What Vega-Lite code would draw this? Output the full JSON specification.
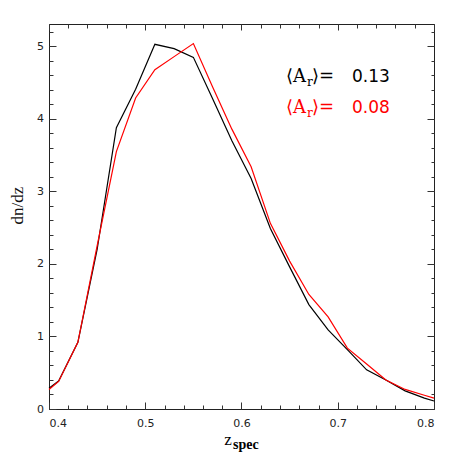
{
  "$schema": "https://vega.github.io/schema/vega-lite/v6.json",
  "width": 385,
  "height": 385,
  "autosize": "none",
  "padding": {"left": 49, "top": 24, "right": 24, "bottom": 49},
  "background": "white",
  "config": {
    "view": {"stroke": "#222", "strokeWidth": 1},
    "axis": {"grid": false, "domain": false, "tickColor": "#333", "tickWidth": 1, "labelFont": "DejaVu Sans", "labelFontSize": 11, "labelColor": "#222"}
  },
  "datasets": {
    "curves": [
      {"z": 0.40, "dndz": 0.285, "series": "0.13"},
      {"z": 0.41, "dndz": 0.386, "series": "0.13"},
      {"z": 0.43, "dndz": 0.92, "series": "0.13"},
      {"z": 0.45, "dndz": 2.2, "series": "0.13"},
      {"z": 0.47, "dndz": 3.88, "series": "0.13"},
      {"z": 0.49, "dndz": 4.41, "series": "0.13"},
      {"z": 0.51, "dndz": 5.03, "series": "0.13"},
      {"z": 0.53, "dndz": 4.97, "series": "0.13"},
      {"z": 0.55, "dndz": 4.85, "series": "0.13"},
      {"z": 0.57, "dndz": 4.28, "series": "0.13"},
      {"z": 0.59, "dndz": 3.70, "series": "0.13"},
      {"z": 0.61, "dndz": 3.18, "series": "0.13"},
      {"z": 0.63, "dndz": 2.49, "series": "0.13"},
      {"z": 0.65, "dndz": 1.96, "series": "0.13"},
      {"z": 0.67, "dndz": 1.44, "series": "0.13"},
      {"z": 0.69, "dndz": 1.09, "series": "0.13"},
      {"z": 0.71, "dndz": 0.82, "series": "0.13"},
      {"z": 0.73, "dndz": 0.54, "series": "0.13"},
      {"z": 0.75, "dndz": 0.40, "series": "0.13"},
      {"z": 0.77, "dndz": 0.25, "series": "0.13"},
      {"z": 0.79, "dndz": 0.15, "series": "0.13"},
      {"z": 0.80, "dndz": 0.11, "series": "0.13"},
      {"z": 0.40, "dndz": 0.27, "series": "0.08"},
      {"z": 0.41, "dndz": 0.38, "series": "0.08"},
      {"z": 0.43, "dndz": 0.92, "series": "0.08"},
      {"z": 0.45, "dndz": 2.25, "series": "0.08"},
      {"z": 0.47, "dndz": 3.55, "series": "0.08"},
      {"z": 0.49, "dndz": 4.29, "series": "0.08"},
      {"z": 0.51, "dndz": 4.68, "series": "0.08"},
      {"z": 0.53, "dndz": 4.86, "series": "0.08"},
      {"z": 0.55, "dndz": 5.04, "series": "0.08"},
      {"z": 0.57, "dndz": 4.44, "series": "0.08"},
      {"z": 0.59, "dndz": 3.86, "series": "0.08"},
      {"z": 0.61, "dndz": 3.34, "series": "0.08"},
      {"z": 0.63, "dndz": 2.56, "series": "0.08"},
      {"z": 0.65, "dndz": 2.04, "series": "0.08"},
      {"z": 0.67, "dndz": 1.58, "series": "0.08"},
      {"z": 0.69, "dndz": 1.27, "series": "0.08"},
      {"z": 0.71, "dndz": 0.84, "series": "0.08"},
      {"z": 0.73, "dndz": 0.62, "series": "0.08"},
      {"z": 0.75, "dndz": 0.40, "series": "0.08"},
      {"z": 0.77, "dndz": 0.27, "series": "0.08"},
      {"z": 0.79, "dndz": 0.19, "series": "0.08"},
      {"z": 0.80, "dndz": 0.15, "series": "0.08"}
    ],
    "notes": [
      {"part": "serifL", "text": "⟨A", "z": 0.667, "dndz": 4.515, "series": "0.13"},
      {"part": "sub", "text": "r", "z": 0.6681, "dndz": 4.515, "series": "0.13"},
      {"part": "serifR", "text": "⟩=", "z": 0.6732, "dndz": 4.515, "series": "0.13"},
      {"part": "num", "text": "0.13", "z": 0.7148, "dndz": 4.515, "series": "0.13"},
      {"part": "serifL", "text": "⟨A", "z": 0.667, "dndz": 4.083, "series": "0.08"},
      {"part": "sub", "text": "r", "z": 0.6681, "dndz": 4.083, "series": "0.08"},
      {"part": "serifR", "text": "⟩=", "z": 0.6732, "dndz": 4.083, "series": "0.08"},
      {"part": "num", "text": "0.08", "z": 0.7148, "dndz": 4.083, "series": "0.08"},
      {"part": "zmain", "text": "z", "z": 0.590, "dndz": -0.497, "series": "axis"},
      {"part": "zsub", "text": "spec", "z": 0.5911, "dndz": -0.55, "series": "axis"}
    ]
  },
  "resolve": {"axis": {"x": "independent", "y": "independent"}},
  "layer": [
    {
      "data": {"name": "curves"},
      "mark": {"type": "line", "strokeWidth": 1.2},
      "encoding": {
        "x": {"field": "z", "type": "quantitative", "scale": {"domain": [0.4, 0.8], "nice": false, "zero": false},
          "axis": {"orient": "bottom", "values": [0.4, 0.5, 0.6, 0.7, 0.8], "format": ".1f", "tickSize": -7, "labelPadding": 15, "title": null}},
        "y": {"field": "dndz", "type": "quantitative", "scale": {"domain": [0, 5.31], "nice": false, "zero": false},
          "axis": {"orient": "left", "values": [0, 1, 2, 3, 4, 5], "tickSize": -7, "labelPadding": 12.5, "title": "dn/dz", "titleFont": "Liberation Serif", "titleFontSize": 17, "titleFontWeight": "normal", "titleColor": "#111", "titleX": -31.5, "titleY": 181, "titleAngle": -90, "titleAlign": "center", "titleBaseline": "middle"}},
        "color": {"field": "series", "type": "nominal", "scale": {"domain": ["0.13", "0.08", "axis"], "range": ["#000000", "#ff0000", "#000000"]}, "legend": null},
        "detail": {"field": "series"}
      }
    },
    {
      "data": {"name": "notes"},
      "transform": [{"filter": "datum.part === 'serifL'"}],
      "mark": {"type": "text", "align": "right", "baseline": "alphabetic", "font": "DejaVu Serif", "fontSize": 18},
      "encoding": {
        "x": {"field": "z", "type": "quantitative", "scale": {"domain": [0.4, 0.8], "nice": false, "zero": false},
          "axis": {"orient": "bottom", "values": [0.4, 0.42, 0.44, 0.46, 0.48, 0.5, 0.52, 0.54, 0.56, 0.58, 0.6, 0.62, 0.64, 0.66, 0.68, 0.7, 0.72, 0.74, 0.76, 0.78, 0.8], "tickSize": -4, "labels": false, "title": null}},
        "y": {"field": "dndz", "type": "quantitative", "scale": {"domain": [0, 5.31], "nice": false, "zero": false},
          "axis": {"orient": "left", "values": [0, 0.2, 0.4, 0.6, 0.8, 1, 1.2, 1.4, 1.6, 1.8, 2, 2.2, 2.4, 2.6, 2.8, 3, 3.2, 3.4, 3.6, 3.8, 4, 4.2, 4.4, 4.6, 4.8, 5, 5.2], "tickSize": -4, "labels": false, "title": null}},
        "text": {"field": "text"},
        "color": {"field": "series", "type": "nominal", "legend": null}
      }
    },
    {
      "data": {"name": "notes"},
      "transform": [{"filter": "datum.part === 'sub'"}],
      "mark": {"type": "text", "align": "left", "baseline": "alphabetic", "font": "DejaVu Serif", "fontSize": 12, "dy": 4},
      "encoding": {
        "x": {"field": "z", "type": "quantitative", "scale": {"domain": [0.4, 0.8], "nice": false, "zero": false},
          "axis": {"orient": "top", "values": [0.4, 0.5, 0.6, 0.7, 0.8], "tickSize": -6, "labels": false, "title": null}},
        "y": {"field": "dndz", "type": "quantitative", "scale": {"domain": [0, 5.31], "nice": false, "zero": false},
          "axis": {"orient": "right", "values": [0, 1, 2, 3, 4, 5], "tickSize": -7, "labels": false, "title": null}},
        "text": {"field": "text"},
        "color": {"field": "series", "type": "nominal", "legend": null}
      }
    },
    {
      "data": {"name": "notes"},
      "transform": [{"filter": "datum.part === 'serifR'"}],
      "mark": {"type": "text", "align": "left", "baseline": "alphabetic", "font": "DejaVu Serif", "fontSize": 18},
      "encoding": {
        "x": {"field": "z", "type": "quantitative", "scale": {"domain": [0.4, 0.8], "nice": false, "zero": false},
          "axis": {"orient": "top", "values": [0.4, 0.42, 0.44, 0.46, 0.48, 0.5, 0.52, 0.54, 0.56, 0.58, 0.6, 0.62, 0.64, 0.66, 0.68, 0.7, 0.72, 0.74, 0.76, 0.78, 0.8], "tickSize": -4, "labels": false, "title": null}},
        "y": {"field": "dndz", "type": "quantitative", "scale": {"domain": [0, 5.31], "nice": false, "zero": false},
          "axis": {"orient": "right", "values": [0, 0.2, 0.4, 0.6, 0.8, 1, 1.2, 1.4, 1.6, 1.8, 2, 2.2, 2.4, 2.6, 2.8, 3, 3.2, 3.4, 3.6, 3.8, 4, 4.2, 4.4, 4.6, 4.8, 5, 5.2], "tickSize": -3, "labels": false, "title": null}},
        "text": {"field": "text"},
        "color": {"field": "series", "type": "nominal", "legend": null}
      }
    },
    {
      "data": {"name": "notes"},
      "transform": [{"filter": "datum.part === 'num'"}],
      "mark": {"type": "text", "align": "left", "baseline": "alphabetic", "font": "DejaVu Sans", "fontSize": 17},
      "encoding": {
        "x": {"field": "z", "type": "quantitative", "scale": {"domain": [0.4, 0.8], "nice": false, "zero": false}, "axis": null},
        "y": {"field": "dndz", "type": "quantitative", "scale": {"domain": [0, 5.31], "nice": false, "zero": false}, "axis": null},
        "text": {"field": "text"},
        "color": {"field": "series", "type": "nominal", "legend": null}
      }
    },
    {
      "data": {"name": "notes"},
      "transform": [{"filter": "datum.part === 'zmain'"}],
      "mark": {"type": "text", "align": "right", "baseline": "alphabetic", "font": "Liberation Serif", "fontSize": 17, "color": "#000"},
      "encoding": {
        "x": {"field": "z", "type": "quantitative", "scale": {"domain": [0.4, 0.8], "nice": false, "zero": false}, "axis": null},
        "y": {"field": "dndz", "type": "quantitative", "scale": {"domain": [0, 5.31], "nice": false, "zero": false}, "axis": null},
        "text": {"field": "text"}
      }
    },
    {
      "data": {"name": "notes"},
      "transform": [{"filter": "datum.part === 'zsub'"}],
      "mark": {"type": "text", "align": "left", "baseline": "alphabetic", "font": "Liberation Serif", "fontSize": 14, "fontWeight": "bold", "color": "#000"},
      "encoding": {
        "x": {"field": "z", "type": "quantitative", "scale": {"domain": [0.4, 0.8], "nice": false, "zero": false}, "axis": null},
        "y": {"field": "dndz", "type": "quantitative", "scale": {"domain": [0, 5.31], "nice": false, "zero": false}, "axis": null},
        "text": {"field": "text"}
      }
    }
  ]
}
